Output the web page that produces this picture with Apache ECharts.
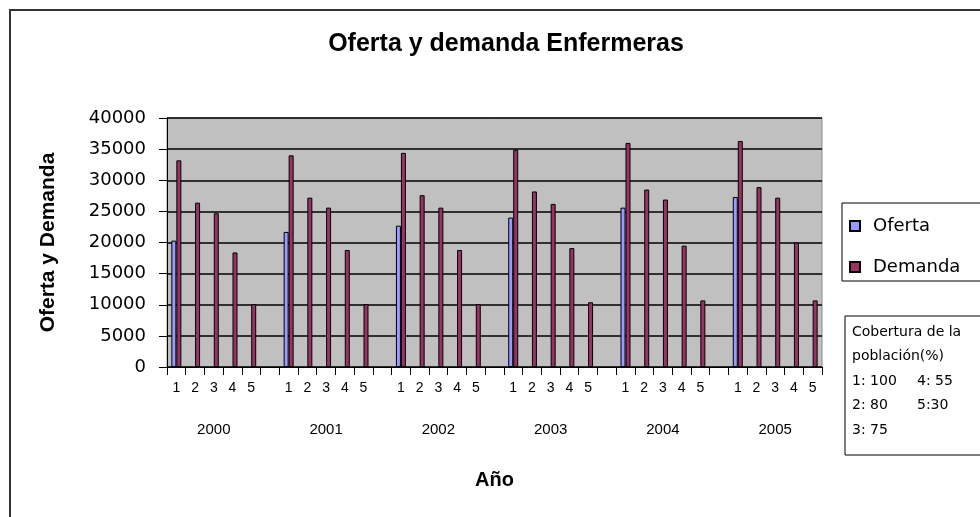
<!DOCTYPE html>
<html>
<head>
<meta charset="utf-8">
<script src="https://cdn.jsdelivr.net/npm/echarts@6/dist/echarts.min.js"></script>
<style>
  html, body { margin: 0; padding: 0; background: #fff; }
  #main { width: 980px; height: 517px; }
</style>
</head>
<body>
<div id="main"></div>
<script>
// datos
var years = ['2000', '2001', '2002', '2003', '2004', '2005'];
var coverage = ['1', '2', '3', '4', '5'];
var oferta = [20300, 21700, 22700, 24000, 25600, 27300];
var demanda2000 = [33200, 26400, 24700, 18400, 10100];
var demanda2001 = [34000, 27200, 25600, 18800, 10100];
var demanda2002 = [34400, 27600, 25600, 18800, 10100];
var demanda2003 = [34900, 28200, 26200, 19100, 10400];
var demanda2004 = [36000, 28500, 26900, 19500, 10700];
var demanda2005 = [36300, 28900, 27200, 20000, 10700];
var demanda = [demanda2000, demanda2001, demanda2002, demanda2003, demanda2004, demanda2005];
var legendNote = ['Cobertura de la', 'población(%)', '1: 100', '2: 80', '3: 75'];
var legendNote2 = ['4: 55', '5:30'];

// categorias: 5 por año y un hueco entre años
var cats = [], yearLabels = [], ofertaData = [], demandaData = [];
for (var i = 0; i < years.length; i++) {
  for (var j = 0; j < coverage.length; j++) {
    cats.push(coverage[j]);
    yearLabels.push(j === 2 ? years[i] : '');
    ofertaData.push(j === 0 ? oferta[i] : '-');
    demandaData.push(demanda[i][j]);
  }
  if (i < years.length - 1) {
    cats.push('');
    yearLabels.push('');
    ofertaData.push('-');
    demandaData.push('-');
  }
}

var chart = echarts.init(document.getElementById('main'), null, { renderer: 'canvas' });

var option = {
  animation: false,
  backgroundColor: '#fff',
  title: {
    text: 'Oferta y demanda Enfermeras',
    left: 501,
    top: 27,
    textAlign: 'center',
    textStyle: { fontFamily: 'Liberation Sans', fontWeight: 'bold', fontSize: 25, color: '#000' }
  },
  legend: {
    orient: 'vertical',
    left: 842,
    top: 203,
    itemWidth: 10,
    itemHeight: 10,
    itemGap: 21,
    icon: 'rect',
    padding: [13, 60, 4, 7],
    backgroundColor: '#fff',
    borderColor: '#000',
    borderWidth: 1,
    borderRadius: 0,
    textStyle: { fontFamily: 'DejaVu Sans', fontSize: 18, color: '#000', lineHeight: 20, padding: [0, 0, 0, 8] },
    data: ['Oferta', 'Demanda']
  },
  grid: {
    left: 167, right: 158, top: 118, bottom: 150,
    show: true,
    backgroundColor: '#c0c0c0',
    borderColor: '#8a8a8a',
    borderWidth: 1
  },
  xAxis: [{
    type: 'category',
    data: cats,
    boundaryGap: true,
    name: 'Año',
    nameLocation: 'middle',
    nameGap: 103,
    nameTextStyle: { fontFamily: 'Liberation Sans', fontWeight: 'bold', fontSize: 20, color: '#000' },
    axisLine: { lineStyle: { color: '#000', width: 1 } },
    axisTick: { show: true, interval: 0, length: 8, lineStyle: { color: '#000' } },
    axisLabel: { interval: 0, margin: 14, fontFamily: 'Liberation Sans', fontSize: 14, color: '#000' },
    splitLine: { show: false }
  }, {
    type: 'category',
    data: yearLabels,
    position: 'bottom',
    boundaryGap: true,
    axisLine: { show: false },
    axisTick: { show: false },
    axisLabel: { interval: 0, margin: 55, fontFamily: 'Liberation Sans', fontSize: 15, color: '#000' },
    splitLine: { show: false }
  }],
  yAxis: {
    type: 'value',
    min: 0,
    max: 40000,
    interval: 5000,
    name: 'Oferta y Demanda',
    nameLocation: 'middle',
    nameGap: 108,
    nameTextStyle: { fontFamily: 'Liberation Sans', fontWeight: 'bold', fontSize: 21, color: '#000' },
    axisLine: { show: true, lineStyle: { color: '#000', width: 1 } },
    axisTick: { show: true, length: 8, lineStyle: { color: '#000' } },
    axisLabel: {
      margin: 21, fontFamily: 'DejaVu Sans', fontSize: 18, color: '#000',
      formatter: function (v) { return String(v); }
    },
    splitLine: { show: true, lineStyle: { color: '#000', width: 1.5 } }
  },
  series: [{
    name: 'Oferta',
    type: 'bar',
    data: ofertaData,
    barWidth: 5,
    barGap: '0%',
    itemStyle: { color: '#9999ff', borderColor: '#000', borderWidth: 1 }
  }, {
    name: 'Demanda',
    type: 'bar',
    data: demandaData,
    barWidth: 5,
    barGap: '0%',
    itemStyle: { color: '#993366', borderColor: '#000', borderWidth: 1 }
  }],
  graphic: [{
    type: 'rect',
    shape: { x: 10, y: 10, width: 1000, height: 600 },
    style: { fill: 'none', stroke: '#333', lineWidth: 2 },
    silent: true
  }, {
    type: 'rect',
    shape: { x: 845, y: 316, width: 200, height: 139 },
    style: { fill: '#fff', stroke: '#000', lineWidth: 1 },
    silent: true
  }, {
    type: 'text',
    left: 852,
    top: 320,
    style: {
      text: legendNote.join('\n'),
      fontFamily: 'DejaVu Sans',
      fontSize: 14,
      lineHeight: 24.5,
      fill: '#000'
    },
    silent: true
  }, {
    type: 'text',
    left: 917,
    top: 369,
    style: {
      text: legendNote2.join('\n'),
      fontFamily: 'DejaVu Sans',
      fontSize: 14,
      lineHeight: 24.5,
      fill: '#000'
    },
    silent: true
  }]
};

chart.setOption(option);
</script>
</body>
</html>
